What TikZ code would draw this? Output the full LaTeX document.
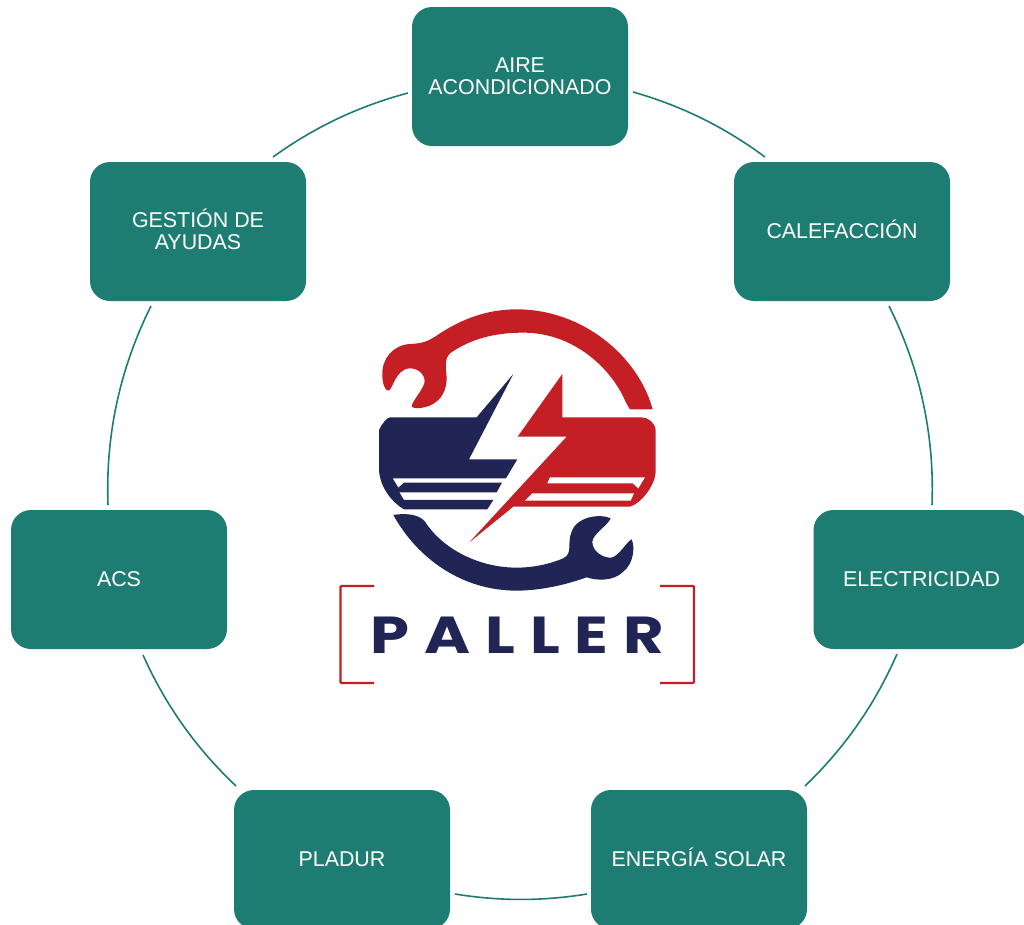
\documentclass[tikz,border=0pt]{standalone}
\usepackage{fontspec}
\setmainfont{Liberation Sans}
\newfontfamily\logofont[LetterSpace=29,FakeStretch=1.2]{Poppins}
\definecolor{teal}{HTML}{1E7D73}
\definecolor{pred}{HTML}{C51F26}
\definecolor{pnavy}{HTML}{202556}
\newcommand{\upby}[1]{\rule[-#1]{0pt}{#1}}
\tikzset{
  svc/.style={fill=teal,rounded corners=20pt,minimum width=216pt,minimum height=139pt,inner sep=0pt,
    text=white,align=center,font=\fontsize{21.4}{22}\selectfont},
  ring/.style={draw=teal,line width=1.6pt},
  bracketline/.style={draw=pred,line width=2.4pt,rounded corners=1pt}
}
\begin{document}
\begin{tikzpicture}[x=1pt,y=-1pt]
\useasboundingbox (0,0) rectangle (1024,924);
\clip (0,0) rectangle (1024,924);
\fill[white] (0,0) rectangle (1024,924);
% service boxes
\node[svc] (air) at (520,76.5) {AIRE\\ACONDICIONADO\upby{1pt}};
\node[svc] (cal) at (842,231.5) {\raisebox{1.5pt}{CALEFACCI\smash{Ó}N}};
\node[svc] (ele) at (921.5,579.5) {ELECTRICIDAD};
\node[svc] (sol) at (699,859.5) {\raisebox{1.5pt}{ENERG\smash{Í}A SOLAR}};
\node[svc] (pla) at (342,859.5) {PLADUR};
\node[svc] (acs) at (119,579.5) {ACS};
\node[svc] (ges) at (198,231.5) {GESTI\smash{Ó}N DE\\AYUDAS\upby{1pt}};
% ring end points
\coordinate (a1) at (633,92);  \coordinate (c0) at (765,157);
\coordinate (c1) at (889,306); \coordinate (e0) at (932,505);
\coordinate (e1) at (897,654); \coordinate (s0) at (805,786);
\coordinate (s1) at (587,894); \coordinate (p0) at (455,894);
\coordinate (p1) at (236,786); \coordinate (ac0) at (143,655);
\coordinate (ac1) at (108,505);\coordinate (g0) at (151,306);
\coordinate (g1) at (273,157); \coordinate (a0) at (408,93);
\draw[ring] (a1) to[bend left=10.3,looseness=.88] (c0);
\draw[ring] (c1) to[bend left=14.3,looseness=.88] (e0);
\draw[ring] (e1) to[bend left=11.2,looseness=.88] (s0);
\draw[ring] (s1) to[bend left=9.2,looseness=.88] (p0);
\draw[ring] (p1) to[bend left=11.2,looseness=.88] (ac0);
\draw[ring] (ac1) to[bend left=14.3,looseness=.88] (g0);
\draw[ring] (g1) to[bend left=10.4,looseness=.88] (a0);
% logo, coordinates in a 3x grid
\begin{scope}[shift={(330,300)},x=.3333pt,y=-.3333pt]
% red wrench
\fill[pred] (968,328) .. controls (925,170) and (760,28) .. (560,28)
  .. controls (470,28) and (395,58) .. (330,100)
  .. controls (290,128) and (275,130) .. (240,132)
  .. controls (190,135) and (155,175) .. (157,225)
  .. controls (157,250) and (165,272) .. (175,272)
  .. controls (190,268) and (195,207) .. (240,205)
  .. controls (270,205) and (288,230) .. (283,250)
  .. controls (275,275) and (245,305) .. (245,320)
  .. controls (250,330) and (345,330) .. (350,240)
  .. controls (350,210) and (340,180) .. (360,160)
  .. controls (420,118) and (490,98) .. (580,98)
  .. controls (720,98) and (830,190) .. (880,290)
  .. controls (888,310) and (895,320) .. (900,328) -- cycle;
% navy body
\fill[pnavy] (147,390) -- (147,510) .. controls (150,565) and (190,610) .. (222,628)
  -- (472,628) -- (490,600) -- (222,600) -- (208,577) -- (500,577) -- (516,548)
  -- (222,548) -- (205,563) -- (188,535) -- (528,535) -- (562,478) -- (417,478)
  -- (550,222) -- (440,352) -- (180,352) .. controls (172,352) and (155,372) .. (147,390) -- cycle;
% red body
\fill[pred] (697,222) -- (563,410) -- (710,410) -- (417,728) -- (550,620) -- (900,620)
  .. controls (930,612) and (975,560) .. (977,515) -- (977,392)
  .. controls (977,370) and (955,352) .. (935,352) -- (697,352) -- cycle;
\fill[white] (660,532) -- (945,532) -- (925,565) -- (908,550) -- (652,550) -- cycle;
\fill[white] (607,580) -- (912,580) -- (902,602) -- (585,602) -- cycle;
% navy wrench
\fill[pnavy] (190,645) .. controls (220,640) and (265,640) .. (285,665)
  .. controls (340,750) and (450,803) .. (560,803)
  .. controls (610,803) and (660,792) .. (700,775)
  .. controls (730,760) and (710,730) .. (725,695)
  .. controls (740,650) and (810,640) .. (842,655)
  .. controls (835,675) and (790,700) .. (787,725)
  .. controls (787,755) and (820,775) .. (845,773)
  .. controls (870,765) and (890,725) .. (905,718)
  .. controls (915,740) and (912,790) .. (880,815)
  .. controls (850,845) and (800,842) .. (770,832)
  .. controls (720,850) and (640,872) .. (560,872)
  .. controls (400,872) and (265,780) .. (190,645) -- cycle;
\end{scope}
% brackets
\draw[bracketline] (374,586) -- (340.5,586) -- (340.5,683) -- (374,683);
\draw[bracketline] (660,586) -- (694,586) -- (694,683) -- (660,683);
\node[anchor=base west,inner sep=0pt,text=pnavy,font=\logofont\bfseries\fontsize{52}{52}\selectfont] (brand) at (370,653.5) {PALLER};
\end{tikzpicture}
\end{document}
